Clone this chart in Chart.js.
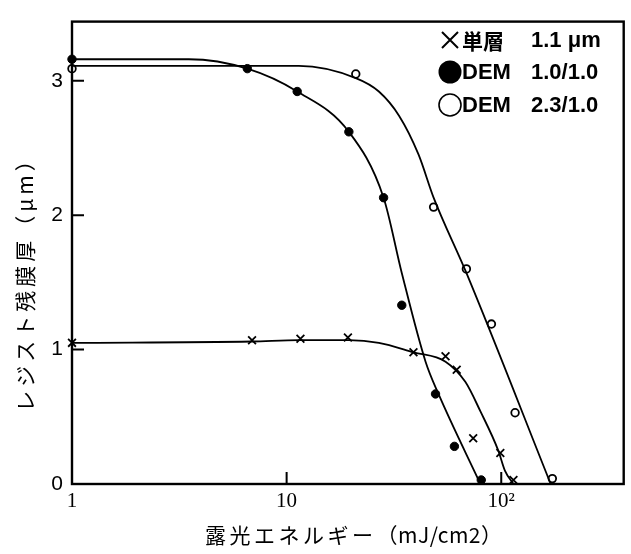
<!DOCTYPE html>
<html>
<head>
<meta charset="utf-8">
<script src="https://cdn.jsdelivr.net/npm/chart.js@4.4.1/dist/chart.umd.min.js"></script>
<style>
  body { margin: 0; background: #fff; }
  .chart-container { width: 631px; height: 554px; }
</style>
</head>
<body>
<div class="chart-container"><canvas id="chart1"></canvas></div>
<script>
// measured points (x = exposure energy mJ/cm2, y = thickness um)
const singleX = [1, 6.9, 11.6, 19.3, 39, 55, 62, 74, 99, 114];
const singleY = [1.05, 1.07, 1.08, 1.09, 0.98, 0.95, 0.85, 0.34, 0.23, 0.03];
const dem10X = [1, 6.56, 11.2, 19.5, 28.3, 34.4, 49.4, 60.5, 80.7];
const dem10Y = [3.16, 3.09, 2.92, 2.62, 2.13, 1.33, 0.67, 0.28, 0.03];
const dem23X = [1, 21, 48.4, 68.8, 90, 116, 173];
const dem23Y = [3.09, 3.05, 2.06, 1.60, 1.19, 0.53, 0.04];

// hand-drawn fit curves
const singleCurveX = [1, 6.9, 11.4, 19.5, 26.9, 39, 55, 68, 80, 96.8, 104, 114];
const singleCurveY = [1.05, 1.06, 1.07, 1.07, 1.05, 0.98, 0.91, 0.76, 0.54, 0.25, 0.10, 0.0];
const dem10CurveX = [1, 3.5, 6.56, 11.2, 19.5, 28.3, 34.4, 44.4, 51, 80];
const dem10CurveY = [3.16, 3.16, 3.09, 2.92, 2.62, 2.13, 1.57, 0.91, 0.67, 0];
const dem23CurveX = [1, 5, 11.4, 21, 26.9, 33.4, 41.2, 48.4, 68.8, 170];
const dem23CurveY = [3.11, 3.11, 3.11, 3.02, 2.92, 2.74, 2.45, 2.13, 1.57, 0];

const xTicks = [1, 10, 100];
const xTickLabels = ['1', '10', '10²'];
const yTicks = [0, 1, 2, 3];

const legendNames = ['単層', 'DEM', 'DEM'];
const legendValues = ['1.1 μm', '1.0/1.0', '2.3/1.0'];

const toPts = (xs, ys) => xs.map((x, i) => ({ x: x, y: ys[i] }));

const curve = (xs, ys) => ({
    type: 'line',
    data: toPts(xs, ys),
    borderColor: '#000',
    borderWidth: 1.8,
    pointRadius: 0,
    cubicInterpolationMode: 'monotone',
    fill: false,
    clip: false
});

const frame = {
    id: 'frame',
    afterDraw(chart) {
        const ctx = chart.ctx;
        const a = chart.chartArea;
        const xs = chart.scales.x, ys = chart.scales.y;
        ctx.save();
        ctx.strokeStyle = '#000';
        ctx.lineWidth = 2.4;
        ctx.strokeRect(a.left, a.top, a.right - a.left, a.bottom - a.top);
        // inward tick marks
        ctx.lineWidth = 2;
        ctx.beginPath();
        yTicks.forEach(v => {
            const p = ys.getPixelForValue(v);
            ctx.moveTo(a.left, p);
            ctx.lineTo(a.left + 12, p);
        });
        [10, 100].forEach(v => {
            const p = xs.getPixelForValue(v);
            ctx.moveTo(p, a.bottom);
            ctx.lineTo(p, a.bottom - 12);
        });
        ctx.stroke();

        // axis titles
        ctx.fillStyle = '#000';
        ctx.textBaseline = 'middle';
        ctx.font = "21px 'Noto Sans CJK JP'";
        ctx.textAlign = 'left';
        ctx.letterSpacing = '3.5px';
        ctx.fillText('露光エネルギー', 205, 535);
        const w = ctx.measureText('露光エネルギー').width;
        ctx.letterSpacing = '0.5px';
        ctx.fillText('（mJ/cm2）', 205 + w, 535);
        ctx.textAlign = 'center';
        ctx.save();
        ctx.translate(25, 279);
        ctx.rotate(-Math.PI / 2);
        ctx.letterSpacing = '4px';
        ctx.fillText('レジスト残膜厚（μm）', 0, 0);
        ctx.restore();
        ctx.letterSpacing = '0px';

        // legend
        const rows = [40, 72, 105];
        ctx.textAlign = 'left';
        rows.forEach((y, i) => {
            const sx = 450;
            ctx.lineWidth = 2;
            ctx.beginPath();
            if (i === 0) {
                ctx.moveTo(sx - 8, y - 8); ctx.lineTo(sx + 8, y + 8);
                ctx.moveTo(sx + 8, y - 8); ctx.lineTo(sx - 8, y + 8);
                ctx.stroke();
            } else if (i === 1) {
                ctx.arc(sx, y, 11.5, 0, Math.PI * 2);
                ctx.fill();
            } else {
                ctx.lineWidth = 1.6;
                ctx.arc(sx, y, 11, 0, Math.PI * 2);
                ctx.stroke();
            }
            ctx.font = i === 0 ? "bold 21px 'Noto Sans CJK JP'" : "bold 22px 'Liberation Sans'";
            ctx.fillText(legendNames[i], 462, y + 1);
            ctx.font = "bold 22px 'Liberation Sans'";
            ctx.fillText(legendValues[i], 531, y + 1);
        });
        ctx.restore();
    }
};

new Chart('chart1', {
    type: 'scatter',
    data: {
        datasets: [
            curve(singleCurveX, singleCurveY),
            curve(dem10CurveX, dem10CurveY),
            curve(dem23CurveX, dem23CurveY),
            {
                data: toPts(singleX, singleY),
                pointStyle: 'crossRot',
                pointRadius: 5.5,
                borderColor: '#000',
                borderWidth: 1.8,
                clip: false
            },
            {
                data: toPts(dem10X, dem10Y),
                pointStyle: 'circle',
                pointRadius: 4.2,
                backgroundColor: '#000',
                borderColor: '#000',
                borderWidth: 1,
                clip: false
            },
            {
                data: toPts(dem23X, dem23Y),
                pointStyle: 'circle',
                pointRadius: 3.8,
                backgroundColor: '#fff',
                borderColor: '#000',
                borderWidth: 1.8,
                clip: false
            }
        ]
    },
    options: {
        responsive: true,
        maintainAspectRatio: false,
        animation: false,
        layout: { padding: { left: 0, top: 15, right: 5, bottom: 0 } },
        plugins: {
            legend: { display: false },
            tooltip: { enabled: false }
        },
        scales: {
            x: {
                type: 'logarithmic',
                min: 1,
                max: 372,
                afterFit: (s) => { s.height = 70; },
                afterBuildTicks: (s) => { s.ticks = xTicks.map(v => ({ value: v })); },
                grid: { display: false, drawTicks: false },
                border: { display: false },
                ticks: {
                    padding: 5,
                    color: '#000',
                    font: { family: "'Liberation Serif'", size: 21 },
                    callback: (v) => xTickLabels[xTicks.indexOf(v)]
                }
            },
            y: {
                type: 'linear',
                min: 0,
                max: 3.44,
                afterFit: (s) => { s.width = 72; },
                afterBuildTicks: (s) => { s.ticks = yTicks.map(v => ({ value: v })); },
                grid: { display: false, drawTicks: false },
                border: { display: false },
                ticks: {
                    padding: 9,
                    color: '#000',
                    font: { family: "'Liberation Sans'", size: 21 }
                }
            }
        }
    },
    plugins: [frame]
});
</script>
</body>
</html>
